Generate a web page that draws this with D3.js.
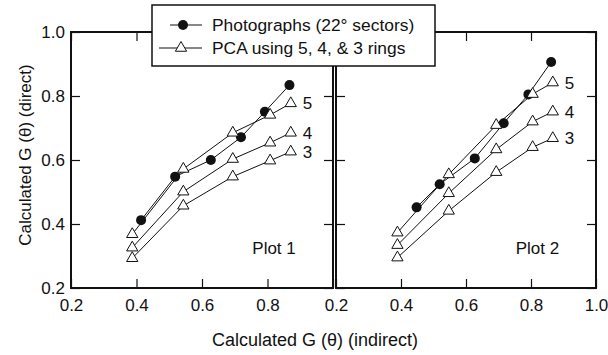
<!DOCTYPE html>
<html lang="en">
	<head>
		<meta charset="utf-8">
		<script type="text/javascript" src="https://d3js.org/d3.v7.min.js"></script>
		<style type="text/css">
			body { margin:0; background:white; }
			text { font-family:"Liberation Sans", Arial, sans-serif; fill:#111; }
		</style>
	</head>
	<body>
		<script type="text/javascript">

			//Data
			var plotNames = ["Plot 1", "Plot 2"];
			var ringLabels = ["5", "4", "3"];
			var tickValues = [0.2, 0.4, 0.6, 0.8, 1.0];

			//Plot 1
			var photoX1 = [0.414, 0.518, 0.627, 0.719, 0.792, 0.867];
			var photoY1 = [0.412, 0.548, 0.600, 0.671, 0.751, 0.834];
			var pcaX1 = [0.387, 0.543, 0.694, 0.808, 0.871];
			var ring5Y1 = [0.368, 0.572, 0.685, 0.741, 0.777];
			var ring4Y1 = [0.326, 0.501, 0.603, 0.654, 0.685];
			var ring3Y1 = [0.293, 0.457, 0.548, 0.598, 0.626];

			//Plot 2
			var photoX2 = [0.448, 0.519, 0.627, 0.716, 0.792, 0.862];
			var photoY2 = [0.452, 0.524, 0.605, 0.715, 0.805, 0.906];
			var pcaX2 = [0.389, 0.547, 0.693, 0.805, 0.867];
			var ring5Y2 = [0.373, 0.555, 0.709, 0.806, 0.842];
			var ring4Y2 = [0.334, 0.496, 0.633, 0.720, 0.751];
			var ring3Y2 = [0.295, 0.441, 0.562, 0.640, 0.668];

			var legendLabels = ["Photographs (22\u00b0 sectors)", "PCA using 5, 4, & 3 rings"];

			//Width and height
			var w = 608;
			var h = 355;
			var padTop = 32, padBottom = 288;

			var panels = [
				{ name: plotNames[0], x0: 71, x1: 333, photoX: photoX1, photoY: photoY1, pcaX: pcaX1,
				  rings: [ring5Y1, ring4Y1, ring3Y1], yLabels: true, lastX: false },
				{ name: plotNames[1], x0: 336, x1: 596, photoX: photoX2, photoY: photoY2, pcaX: pcaX2,
				  rings: [ring5Y2, ring4Y2, ring3Y2], yLabels: false, lastX: true }
			];

			var svg = d3.select("body")
						.append("svg")
						.attr("width", w)
						.attr("height", h);

			var fmt = d3.format(".1f");
			var tri = d3.symbol().type(d3.symbolTriangle).size(55);

			panels.forEach(function(p) {
				var xScale = d3.scaleLinear().domain([0.2, 1.0]).range([p.x0, p.x1]);
				var yScale = d3.scaleLinear().domain([0.2, 1.0]).range([padBottom, padTop]);

				var g = svg.append("g");

				//Axes with inward ticks
				var xBottom = d3.axisBottom(xScale).tickValues(tickValues)
					.tickSizeInner(-9).tickSizeOuter(0).tickPadding(11)
					.tickFormat(function(d) { return (d === 1.0 && !p.lastX) ? "" : fmt(d); });
				var xTop = d3.axisTop(xScale).tickValues(tickValues)
					.tickSizeInner(-9).tickSizeOuter(0).tickFormat("");
				var yLeft = d3.axisLeft(yScale).tickValues(tickValues)
					.tickSizeInner(-9).tickSizeOuter(0).tickPadding(6)
					.tickFormat(function(d) { return p.yLabels ? fmt(d) : ""; });
				var yRight = d3.axisRight(yScale).tickValues(tickValues)
					.tickSizeInner(-9).tickSizeOuter(0).tickFormat("");

				[[xBottom, "translate(0," + padBottom + ")"],
				 [xTop, "translate(0," + padTop + ")"],
				 [yLeft, "translate(" + p.x0 + ",0)"],
				 [yRight, "translate(" + p.x1 + ",0)"]].forEach(function(a) {
					var ax = g.append("g").attr("transform", a[1]).call(a[0]);
					ax.select(".domain").remove();
					ax.selectAll("line").attr("stroke", "#111").attr("stroke-width", 1.2);
					ax.selectAll("text").attr("font-size", "17px")
						.attr("font-family", "Liberation Sans, Arial, sans-serif").attr("fill", "#111");
				});

				//Frame
				g.append("rect")
					.attr("x", p.x0).attr("y", padTop)
					.attr("width", p.x1 - p.x0).attr("height", padBottom - padTop)
					.attr("fill", "none").attr("stroke", "#111").attr("stroke-width", 2);

				var line = d3.line()
					.x(function(d) { return xScale(d[0]); })
					.y(function(d) { return yScale(d[1]); });

				//Photographs
				var photo = p.photoX.map(function(x, i) { return [x, p.photoY[i]]; });
				g.append("path").attr("d", line(photo))
					.attr("fill", "none").attr("stroke", "#111").attr("stroke-width", 1);
				g.selectAll("circle.photo")
					.data(photo)
					.enter()
					.append("circle")
					.attr("class", "photo")
					.attr("cx", function(d) { return xScale(d[0]); })
					.attr("cy", function(d) { return yScale(d[1]); })
					.attr("r", 5)
					.attr("fill", "#111");

				//PCA rings
				p.rings.forEach(function(ys, k) {
					var pts = p.pcaX.map(function(x, i) { return [x, ys[i]]; });
					g.append("path").attr("d", line(pts))
						.attr("fill", "none").attr("stroke", "#111").attr("stroke-width", 1);
					g.selectAll("path.tri" + k)
						.data(pts)
						.enter()
						.append("path")
						.attr("class", "tri" + k)
						.attr("d", tri)
						.attr("transform", function(d) { return "translate(" + xScale(d[0]) + "," + yScale(d[1]) + ")"; })
						.attr("fill", "white")
						.attr("stroke", "#111")
						.attr("stroke-width", 1);
					var last = pts[pts.length - 1];
					g.append("text")
						.attr("x", xScale(last[0]) + 12)
						.attr("y", yScale(last[1]))
						.attr("dy", "0.36em")
						.attr("font-size", "17px")
						.text(ringLabels[k]);
				});

				//Plot name
				g.append("text")
					.attr("x", xScale(0.82))
					.attr("y", yScale(0.325))
					.attr("dy", "0.36em")
					.attr("text-anchor", "middle")
					.attr("font-size", "17px")
					.text(p.name);
			});

			//Axis titles
			svg.append("text")
				.attr("transform", "translate(25,155) rotate(-90)")
				.attr("dy", "0.36em")
				.attr("text-anchor", "middle")
				.attr("font-size", "17px")
				.text("Calculated G (\u03b8) (direct)");

			svg.append("text")
				.attr("x", 315)
				.attr("y", 340)
				.attr("dy", "0.36em")
				.attr("text-anchor", "middle")
				.attr("font-size", "18px")
				.text("Calculated G (\u03b8) (indirect)");

			//Legend, drawn over the top of both frames
			var lg = svg.append("g");
			lg.append("rect")
				.attr("x", 152).attr("y", 5)
				.attr("width", 283).attr("height", 61)
				.attr("fill", "white").attr("stroke", "#111").attr("stroke-width", 1.5);

			lg.append("line").attr("x1", 170).attr("x2", 202).attr("y1", 25).attr("y2", 25)
				.attr("stroke", "#111").attr("stroke-width", 1);
			lg.append("circle").attr("cx", 183).attr("cy", 25).attr("r", 5).attr("fill", "#111");
			lg.append("line").attr("x1", 159).attr("x2", 202).attr("y1", 48).attr("y2", 48)
				.attr("stroke", "#111").attr("stroke-width", 1);
			lg.append("path").attr("d", tri).attr("transform", "translate(181,48)")
				.attr("fill", "white").attr("stroke", "#111").attr("stroke-width", 1);

			lg.selectAll("text.leg")
				.data(legendLabels)
				.enter()
				.append("text")
				.attr("class", "leg")
				.attr("x", 212)
				.attr("y", function(d, i) { return 25 + i * 23; })
				.attr("dy", "0.36em")
				.attr("font-size", "17.4px")
				.text(function(d) { return d; });

		</script>
	</body>
</html>
